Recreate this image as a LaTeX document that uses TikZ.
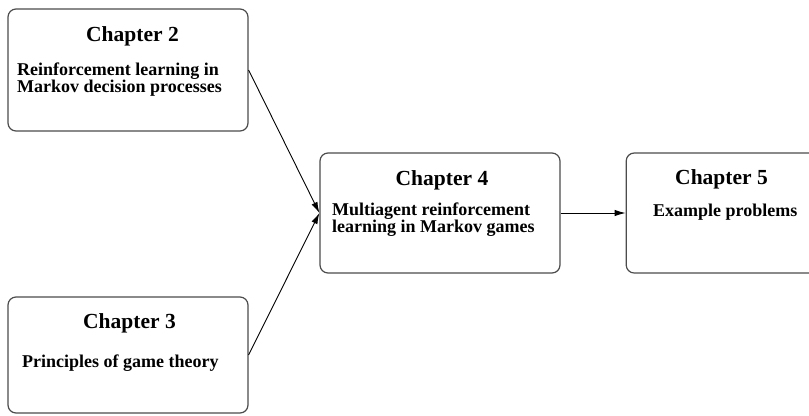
\documentclass[tikz,border=0pt]{standalone}
\usepackage{fontspec}
\setmainfont{Liberation Serif}
\usetikzlibrary{arrows.meta, positioning}

\begin{document}
\begin{tikzpicture}[
  x=1bp, y=-1bp,
  box/.style={rectangle, draw=black!70, line width=1.2bp, rounded corners=8bp, minimum width=240bp, minimum height=120bp, inner sep=0pt},
  title/.style={font=\bfseries\fontsize{21.5bp}{24bp}\selectfont, inner sep=0pt, anchor=base},
  body/.style={font=\bfseries\fontsize{18bp}{17.5bp}\selectfont, inner sep=0pt, align=left, anchor=base west},
  line/.style={draw, line width=0.9bp, -{Latex[length=11bp, width=6.5bp]}}
]
  \useasboundingbox (0,0) rectangle (809,415);
  \clip (0,0) rectangle (809,415);

  \node [box, minimum height=122bp] (ch2) at (128,70) {};
  \node [box, minimum height=116bp] (ch3) at (128,355) {};
  \node [box] (ch4) at (440,213) {};
  \node [box, right=65bp of ch4] (ch5) {};

  % base anchor sits on the last line
  \node [title] (ch2head) at (132.5,41.7) {Chapter 2};
  \node [body] (ch2text) at (17,92.5) {Reinforcement learning in\\Markov decision processes};
  \node [title] (ch3head) at (129.5,328) {Chapter 3};
  \node [body] (ch3text) at (22,367) {Principles of game theory};
  \node [title] (ch4head) at (442,185) {Chapter 4};
  \node [body] (ch4text) at (332,232.5) {Multiagent reinforcement\\learning in Markov games};
  \node [title] (ch5head) at (721.5,184) {Chapter 5};
  \node [body] (ch5text) at (653,216) {Example problems};

  \draw [line] (ch2.east) -- (ch4.west);
  \draw [line] (ch3.east) -- (ch4.west);
  \draw [line] (ch4.east) -- (ch5.west);
\end{tikzpicture}
\end{document}
